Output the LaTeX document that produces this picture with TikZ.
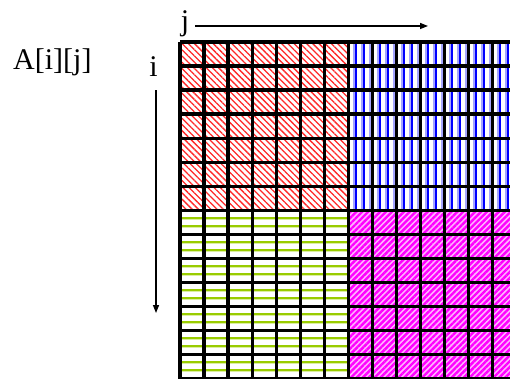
\documentclass[tikz,border=0pt]{standalone}
\usepackage{fontspec}
\setmainfont{Liberation Serif}
\usetikzlibrary{arrows.meta,patterns.meta}
\definecolor{stripered}{RGB}{255,40,40}
\definecolor{stripeblue}{RGB}{0,0,255}
\definecolor{paleblue}{RGB}{165,165,255}
\definecolor{stripegreen}{RGB}{153,204,0}
\definecolor{palegreen}{RGB}{220,238,160}
\definecolor{stripemagenta}{RGB}{255,0,255}
\definecolor{palemagenta}{RGB}{255,180,255}
\tikzset{
  label text/.style={font=\fontsize{30}{34}\selectfont, inner sep=0pt},
  index arrow/.style={-{Triangle[length=8pt,width=6pt]}, line width=1.4pt},
  grid line/.style={line width=3.3pt},
}

\begin{document}
\begin{tikzpicture}[x=1pt,y=1pt]
        \clip (0,0) rectangle (510,378);
        \def\cw{24.05}
        % top left: red diagonals
        \fill[pattern={Lines[angle=-45,distance=4.4pt,line width=1.3pt]}, pattern color=stripered]
          (180,336) rectangle ({180+7*\cw},{336-7*\cw});
        % top right: blue verticals
        \fill[pattern={Lines[angle=90,distance=8pt,line width=1.6pt,xshift=2pt]}, pattern color=paleblue]
          ({180+7*\cw},336) rectangle ({180+14*\cw},{336-7*\cw});
        \fill[pattern={Lines[angle=90,distance=8pt,line width=1.3pt,xshift=4pt]}, pattern color=stripeblue]
          ({180+7*\cw},336) rectangle ({180+14*\cw},{336-7*\cw});
        % bottom left: green horizontals
        \fill[pattern={Lines[angle=0,distance=8pt,line width=3pt]}, pattern color=palegreen]
          (180,{336-7*\cw}) rectangle ({180+7*\cw},{336-14*\cw});
        \fill[pattern={Lines[angle=0,distance=8pt,line width=1.3pt]}, pattern color=stripegreen]
          (180,{336-7*\cw}) rectangle ({180+7*\cw},{336-14*\cw});
        % bottom right: magenta diagonals
        \fill[palemagenta] ({180+7*\cw},{336-7*\cw}) rectangle ({180+14*\cw},{336-14*\cw});
        \fill[pattern={Lines[angle=45,distance=4.2pt,line width=2.4pt]}, pattern color=stripemagenta]
          ({180+7*\cw},{336-7*\cw}) rectangle ({180+14*\cw},{336-14*\cw});
        \foreach \k in {0,...,14} {
          \draw[grid line] ({180+\k*\cw},336) -- ({180+\k*\cw},{336-14*\cw});
          \draw[grid line] (180,{336-\k*\cw}) -- ({180+14*\cw},{336-\k*\cw});
        }
        \node[label text, anchor=base west] (arrayname) at (13,308) {A[i][j]};
        \node[label text, anchor=base] (jlabel) at (185,347) {j};
        \node[label text, anchor=base] (ilabel) at (153.5,301) {i};
        \coordinate (jend) at (428,352);
        \coordinate (iend) at (156,65);
        \draw[index arrow, shorten <=6pt] (jlabel.east |- jend) -- (jend);
        \draw[index arrow, shorten <=13pt] (ilabel.south -| iend) -- (iend);
      \end{tikzpicture}
\end{document}
